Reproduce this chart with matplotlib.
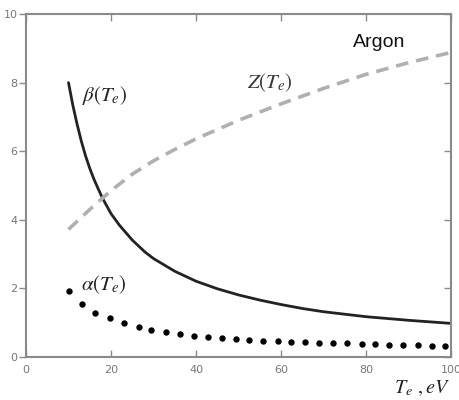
import matplotlib
matplotlib.use("Agg")
import matplotlib.pyplot as plt

plt.rcParams['mathtext.fontset'] = 'stix'

# beta(Te) - solid black
beta_T = [10, 11, 12, 13, 14, 15, 16, 17, 18, 20, 22, 25, 28, 30, 35, 40, 45, 50, 55,
          60, 65, 70, 80, 90, 100]
beta_v = [8.0, 7.35, 6.8, 6.3, 5.87, 5.5, 5.18, 4.9, 4.63, 4.18, 3.84, 3.41, 3.06, 2.87,
          2.5, 2.21, 1.99, 1.81, 1.66, 1.53, 1.415, 1.32, 1.175, 1.07, 0.98]

# Z(Te) - dashed gray
z_T = [10, 15, 18, 20, 25, 30, 35, 40, 50, 60, 70, 80, 90, 100]
z_v = [3.72, 4.3, 4.63, 4.85, 5.33, 5.72, 6.05, 6.36, 6.9, 7.38, 7.83, 8.24, 8.58, 8.88]

# alpha(Te) - dots
alpha_T = [10.2, 13.1, 16.3, 19.8, 23.1, 26.5, 29.5, 32.9, 36.2, 39.6, 42.9, 46.0, 49.3,
           52.5, 55.8, 59.4, 62.4, 65.6, 68.9, 72.3, 75.6, 79.0, 82.1, 85.5, 88.8, 92.2,
           95.5, 98.6]
alpha_v = [1.92, 1.55, 1.29, 1.13, 0.98, 0.88, 0.80, 0.72, 0.68, 0.62, 0.57, 0.545, 0.52,
           0.50, 0.48, 0.46, 0.45, 0.43, 0.42, 0.41, 0.40, 0.38, 0.37, 0.36, 0.35, 0.34,
           0.33, 0.32]

xticks = [0, 20, 40, 60, 80, 100]
yticks = [0, 2, 4, 6, 8, 10]

fig = plt.figure(figsize=(4.59, 4.0), dpi=100)
ax = fig.add_axes([26/459, 43/400, 425/459, 343/400])

ax.plot(beta_T, beta_v, color='#222222', lw=2.0, solid_capstyle='round',
        solid_joinstyle='round')
ax.plot(z_T, z_v, color='#b0b0b0', lw=2.6, dashes=(3.5, 2.2))
ax.plot(alpha_T, alpha_v, 'o', color='black', ms=4.6, mec='none')

ax.set_xlim(0, 100)
ax.set_ylim(0, 10)
ax.set_xticks(xticks)
ax.set_yticks(yticks)
ax.set_xticklabels([str(v) for v in xticks])
ax.set_yticklabels([str(v) for v in yticks])

gray = '#8a8a8a'
for s in ax.spines.values():
    s.set_color(gray)
    s.set_linewidth(1.5)
ax.tick_params(axis='x', direction='in', top=True, length=5, width=1.0, color=gray,
               labelcolor='#777777', labelsize=8, pad=6)
ax.tick_params(axis='y', direction='out', length=5, width=1.0, color=gray,
               labelcolor='#777777', labelsize=8, pad=1)
ax.tick_params(axis='y', which='both', right=False)
# right side inward ticks
axr = ax.twinx()
axr.set_ylim(0, 10)
axr.set_yticks(yticks)
axr.tick_params(axis='y', direction='in', length=5, width=1.0, color=gray, labelright=False)
for s in axr.spines.values():
    s.set_visible(False)

ax.text(13.2, 7.45, r'$\beta(T_e)$', fontsize=15, color='#222222')
ax.text(12.9, 1.95, r'$\alpha(T_e)$', fontsize=15, color='#222222')
ax.text(52, 7.85, r'$Z(T_e)$', fontsize=15, color='#333333')
ax.text(77, 9.05, 'Argon', fontsize=14, family='Liberation Sans', color='#111111')
ax.text(86.5, -0.9, r'$T_e\ ,eV$', fontsize=14.5, color='#222222', ha='left', va='center')

fig.savefig('out.png', dpi=100)
